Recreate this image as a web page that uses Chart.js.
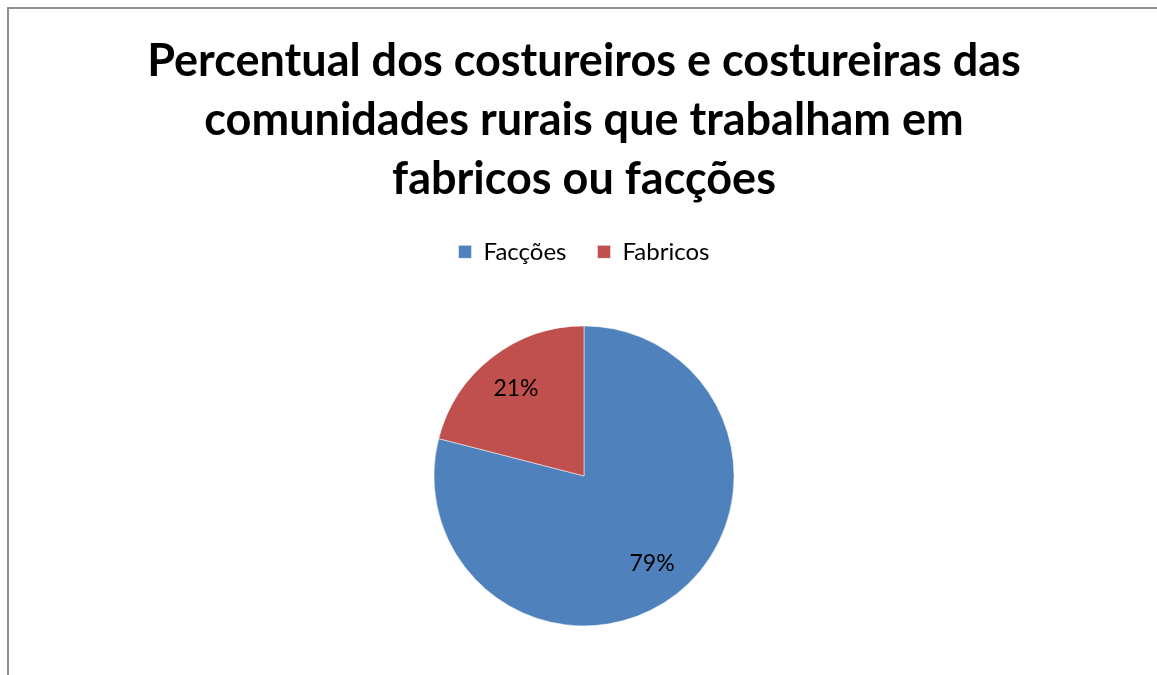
<!DOCTYPE html>
<html>
<head>
<meta charset="utf-8">
<script src="https://cdn.jsdelivr.net/npm/chart.js@4.4.0/dist/chart.umd.min.js"></script>
<style>
  html, body { margin: 0; padding: 0; background: #fff; overflow: hidden; }
  #frame {
    position: absolute; left: 7px; top: 7px;
    width: 1160px; height: 720px;
    border-left: 2px solid #8f8f8f; border-top: 2px solid #8f8f8f;
  }
  #wrap { position: absolute; left: 0; top: 0; width: 1150px; height: 700px; }
</style>
</head>
<body>
<div id="frame"><div id="wrap"><canvas id="chart"></canvas></div></div>
<script>
// Chart data
const categories = ['Facções', 'Fabricos'];
const percentValues = [79, 21];
const sliceColors = ['#4f81bd', '#c0504d'];
const titleLines = [
    'Percentual dos costureiros e costureiras das',
    'comunidades rurais que trabalham em',
    'fabricos ou facções'
];

const FONT = 'Lato, "Open Sans", sans-serif';

// draw the % labels inside each slice
const sliceLabels = {
    id: 'sliceLabels',
    afterDatasetsDraw(chart) {
        const ctx = chart.ctx;
        const meta = chart.getDatasetMeta(0);
        ctx.save();
        ctx.font = '23px ' + FONT;
        ctx.fillStyle = '#000';
        ctx.textAlign = 'center';
        ctx.textBaseline = 'middle';
        meta.data.forEach((arc, i) => {
            const mid = (arc.startAngle + arc.endAngle) / 2;
            const r = arc.outerRadius * 0.74;
            ctx.fillText(percentValues[i] + '%', arc.x + Math.cos(mid) * r, arc.y + Math.sin(mid) * r);
        });
        ctx.restore();
    }
};

new Chart(document.getElementById('chart'), {
    type: 'pie',
    data: {
        labels: categories,
        datasets: [{
            data: percentValues,
            backgroundColor: sliceColors,
            borderColor: '#ffffff',
            borderWidth: 0.5,
            radius: 150
        }]
    },
    options: {
        responsive: true,
        maintainAspectRatio: false,
        animation: false,
        layout: { padding: { top: 0, bottom: 31, left: 0, right: 0 } },
        plugins: {
            title: {
                display: true,
                text: titleLines,
                color: '#000',
                font: { family: FONT, size: 45, weight: 'bold', lineHeight: 1.31 },
                padding: { top: 23, bottom: 0 }
            },
            legend: {
                display: true,
                position: 'top',
                labels: {
                    color: '#000',
                    font: { family: FONT, size: 24 },
                    boxWidth: 13,
                    boxHeight: 13,
                    padding: 31
                }
            },
            tooltip: { enabled: false }
        }
    },
    plugins: [sliceLabels]
});
</script>
</body>
</html>
